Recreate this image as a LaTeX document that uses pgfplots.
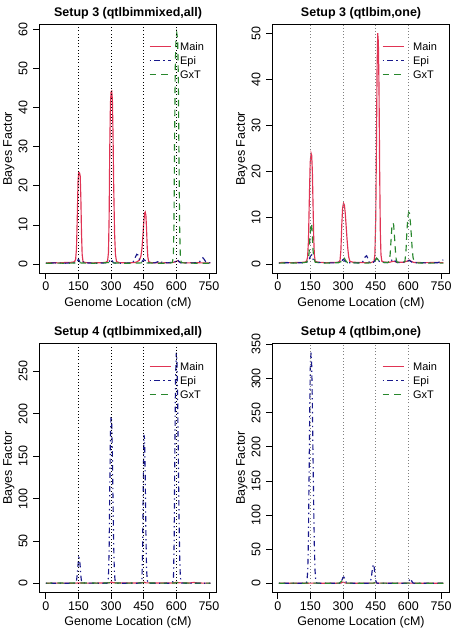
\documentclass[border=0pt]{standalone}
\usepackage{fontspec}
\setmainfont{Liberation Sans}
\usepackage{pgfplots}
\pgfplotsset{compat=1.18}

\definecolor{mainred}{RGB}{224,52,84}
\definecolor{epiblue}{RGB}{25,25,140}
\definecolor{gxtgreen}{RGB}{40,135,45}

\pgfplotsset{
  panel/.style={
    scale only axis, width=177.5pt, height=249.3pt,
    tick align=outside, tick pos=left,
    major tick length=6pt,
    axis line style={line width=0.8pt},
    every tick/.style={black, line width=0.8pt},
    xtick={0,150,...,750},
    /pgf/number format/assume math mode=true,
    ticklabel style={font=\fontsize{12.5}{14}\selectfont},
    xticklabel style={anchor=base, yshift=-11.5pt, inner sep=0pt},
    yticklabel style={rotate=90, anchor=south, inner xsep=0pt, inner ysep=5.5pt},
    title style={font=\bfseries\fontsize{12.5}{14}\selectfont,
      at={(axis description cs:0.5,1)}, anchor=base, yshift=1.8pt},
    xlabel={Genome Location (cM)},
    ylabel={Bayes Factor},
    label style={font=\fontsize{12.5}{14}\selectfont},
    xlabel style={at={(axis description cs:0.5,0)}, anchor=base, yshift=-33pt},
    ylabel style={at={([xshift=-27.5pt]axis description cs:0,0.5)}, anchor=base},
    legend style={draw=none, fill=none, inner sep=0pt,
      at={([xshift=109.5pt,yshift=-18.6pt]axis description cs:0,1)},
      anchor=north west, font=\fontsize{11}{13}\selectfont,
      row sep=3.5pt, column sep=0pt,
      nodes={inner sep=0pt, text height=8pt, text depth=2.5pt, anchor=base west}},
    legend cell align=left,
    legend image code/.code={\draw[##1] (0pt,3.9pt) -- (21pt,3.9pt); \path (30pt,0pt);},
  },
  mainline/.style={mainred, line width=1.15pt},
  epiline/.style={epiblue, line width=1.15pt, dash pattern=on 1.3pt off 3.5pt on 5.5pt off 3.5pt},
  gxtline/.style={gxtgreen, line width=1.15pt, dash pattern=on 6.5pt off 5pt},
  markerline/.style={line width=0.7pt, dash pattern=on 0.8pt off 2.4pt},
}

\begin{document}
\begin{tikzpicture}
\useasboundingbox (0,0) rectangle (455pt,629pt);

% ---------- Setup 3, qtlbimmixed ----------
\begin{axis}[panel, at={(39.3pt,355.7pt)}, anchor=south west,
  title={Setup 3 (qtlbimmixed,all)},
  xmin=-30, xmax=786, ymin=-2.36, ymax=61.36, ytick={0,10,...,60}]
\addplot[mainline] coordinates {(0,0.3)(30,0.35)(60,0.3)(90,0.4)(120,0.45)(132,0.6)(137,1.2)(141,4)(145,13)(148,21)(151,23.5)(155,23.3)(158,22.5)(161,17)(164,8)(167,2.5)(171,0.6)(180,0.4)(210,0.3)(250,0.35)(275,0.4)(284,0.8)(288,3)(291,12)(294,30)(297,41)(300,44)(303,44.2)(306,42)(309,33)(312,20)(316,8)(320,2.5)(325,0.6)(340,0.35)(380,0.3)(410,0.4)(420,0.6)(430,1)(437,2)(442,4)(446,7)(450,10.5)(454,13)(457,13.3)(460,12.5)(463,9)(466,4.5)(469,1.8)(473,0.6)(485,0.35)(530,0.3)(570,0.35)(592,0.5)(600,0.7)(605,0.85)(610,0.7)(618,0.4)(650,0.3)(690,0.35)(720,0.3)(756,0.3)};
\addplot[epiline] coordinates {(0,0.2)(40,0.3)(80,0.2)(120,0.3)(140,0.4)(146,0.8)(150,1.3)(154,0.8)(160,0.3)(172,0.5)(180,0.7)(188,0.3)(230,0.2)(270,0.3)(290,0.5)(296,1.0)(300,1.3)(305,0.8)(312,0.3)(350,0.2)(395,0.3)(405,0.8)(412,1.8)(418,2.5)(424,2.3)(430,1.2)(438,0.5)(445,0.8)(450,1.2)(456,0.9)(464,0.4)(500,0.3)(515,0.6)(522,0.9)(530,0.5)(560,0.3)(595,0.6)(600,0.9)(605,1.2)(611,0.7)(620,0.3)(680,0.3)(705,0.5)(715,1.1)(722,1.6)(728,1.2)(735,0.6)(756,0.3)};
\addplot[gxtline] coordinates {(0,0.2)(50,0.25)(100,0.2)(140,0.3)(147,0.5)(152,0.6)(158,0.3)(200,0.2)(250,0.25)(292,0.4)(298,0.8)(303,0.7)(310,0.3)(380,0.2)(440,0.3)(448,0.6)(455,0.5)(462,0.3)(520,0.2)(570,0.25)(582,0.4)(586,2)(589,10)(592,32)(595,50)(598,57)(602,59)(606,57.5)(609,48)(612,28)(615,10)(618,2.5)(622,0.5)(630,0.3)(700,0.2)(756,0.2)};
\addplot[markerline, black, forget plot] coordinates {(150,-10)(150,100)};
\addplot[markerline, black, forget plot] coordinates {(300,-10)(300,100)};
\addplot[markerline, black, forget plot] coordinates {(450,-10)(450,100)};
\addplot[markerline, black, forget plot] coordinates {(600,-10)(600,100)};
\legend{Main,Epi,GxT}
\end{axis}

% ---------- Setup 3, qtlbim ----------
\begin{axis}[panel, at={(272.3pt,355.7pt)}, anchor=south west,
  title={Setup 3 (qtlbim,one)},
  xmin=-25, xmax=790, ymin=-2, ymax=52, ytick={0,10,...,50}]
\addplot[mainline] coordinates {(5,0.3)(30,0.35)(60,0.3)(100,0.35)(125,0.4)(133,0.7)(137,1.5)(141,5)(145,14)(149,22)(153,24)(156,23.5)(159,20)(162,13)(165,6)(168,2)(172,0.6)(185,0.4)(220,0.3)(260,0.35)(280,0.4)(286,0.8)(290,3)(294,8.5)(298,12.2)(302,13.2)(306,12.8)(310,11)(314,8.3)(318,5.5)(322,3.2)(326,1.5)(331,0.6)(345,0.4)(400,0.3)(430,0.35)(442,0.6)(446,2)(450,10)(453,25)(456,42)(459,50)(462,48)(465,38)(468,20)(471,7)(474,2)(478,0.6)(490,0.4)(515,0.4)(525,0.55)(535,0.6)(545,0.4)(580,0.4)(598,0.7)(605,0.85)(612,0.6)(625,0.35)(680,0.3)(720,0.35)(760,0.3)};
\addplot[epiline] coordinates {(5,0.2)(40,0.3)(80,0.25)(120,0.3)(140,0.5)(146,1.2)(151,1.8)(156,2)(161,1.2)(167,0.4)(200,0.3)(260,0.25)(292,0.5)(298,0.9)(303,1.0)(309,0.6)(318,0.3)(360,0.25)(388,0.3)(396,1.0)(402,1.6)(408,1.8)(414,1.2)(420,0.4)(440,0.4)(450,1.0)(456,1.3)(462,0.8)(470,0.4)(510,0.3)(522,0.8)(530,1.1)(538,0.7)(550,0.3)(595,0.5)(603,0.8)(610,0.6)(620,0.3)(700,0.25)(735,0.3)(745,0.5)(752,0.8)(760,0.9)};
\addplot[gxtline] coordinates {(5,0.2)(50,0.25)(100,0.2)(132,0.4)(140,1)(144,2.5)(148,6)(152,8.8)(156,8.6)(159,6)(162,3)(166,1.2)(172,0.4)(220,0.2)(280,0.3)(294,0.6)(300,1.1)(305,1.4)(311,0.8)(320,0.3)(400,0.2)(440,0.3)(448,0.8)(454,1.3)(460,1.0)(468,0.4)(505,0.3)(512,0.6)(516,2)(520,5)(524,8)(528,8.9)(532,8.6)(536,6)(540,3)(544,1)(548,0.4)(575,0.3)(584,0.6)(589,3)(593,7)(597,10)(601,11.2)(605,11)(609,9)(613,6.5)(617,3.5)(621,1.5)(626,0.5)(640,0.25)(700,0.2)(760,0.2)};
\addplot[markerline, gray, forget plot] coordinates {(150,-10)(150,100)};
\addplot[markerline, gray, forget plot] coordinates {(300,-10)(300,100)};
\addplot[markerline, gray, forget plot] coordinates {(450,-10)(450,100)};
\addplot[markerline, gray, forget plot] coordinates {(600,-10)(600,100)};
\legend{Main,Epi,GxT}
\end{axis}

% ---------- Setup 4, qtlbimmixed ----------
\begin{axis}[panel, at={(39.3pt,36.3pt)}, anchor=south west,
  title={Setup 4 (qtlbimmixed,all)},
  xmin=-30, xmax=786, ymin=-10.9, ymax=282.9, ytick={0,50,...,250}]
\addplot[mainline] coordinates {(0,0.3)(60,0.4)(120,0.3)(150,0.5)(200,0.4)(280,0.5)(295,1)(302,1.8)(310,0.8)(350,0.5)(420,0.5)(445,1)(452,1.5)(460,0.7)(520,0.5)(590,0.6)(600,1.5)(608,0.8)(660,0.5)(680,1.2)(700,0.5)(756,0.3)};
\addplot[epiline] coordinates {(0,0.3)(80,0.3)(130,0.3)(137,0.6)(141,3)(145,12)(149,25)(152,30.5)(155,29)(158,20)(161,9)(164,2.5)(168,0.5)(220,0.3)(280,0.3)(285,1)(288,8)(291,40)(294,110)(297,175)(300,197)(303,190)(306,150)(309,95)(312,45)(315,15)(318,4)(322,0.8)(330,0.3)(420,0.3)(438,0.6)(442,6)(445,40)(448,120)(451,175)(454,170)(457,125)(460,60)(463,18)(466,4)(470,0.6)(480,0.3)(570,0.3)(583,0.8)(587,8)(590,50)(593,150)(596,240)(600,272)(603,262)(606,215)(609,150)(612,85)(615,35)(618,10)(621,2)(625,0.5)(640,0.3)(756,0.3)};
\addplot[gxtline] coordinates {(0,0.4)(50,0.5)(100,0.4)(150,0.6)(200,0.5)(250,0.4)(298,0.8)(305,1.2)(312,0.5)(380,0.4)(448,0.7)(455,1.3)(462,0.5)(540,0.4)(598,0.6)(604,1.2)(612,0.5)(680,0.4)(756,0.4)};
\addplot[markerline, black, forget plot] coordinates {(150,-50)(150,400)};
\addplot[markerline, black, forget plot] coordinates {(300,-50)(300,400)};
\addplot[markerline, black, forget plot] coordinates {(450,-50)(450,400)};
\addplot[markerline, black, forget plot] coordinates {(600,-50)(600,400)};
\legend{Main,Epi,GxT}
\end{axis}

% ---------- Setup 4, qtlbim ----------
\begin{axis}[panel, at={(272.3pt,36.3pt)}, anchor=south west,
  title={Setup 4 (qtlbim,one)},
  xmin=-25, xmax=790, ymin=-13.5, ymax=351.5, ytick={0,50,...,350}]
\addplot[mainline] coordinates {(5,0.3)(60,0.4)(120,0.3)(150,0.5)(200,0.4)(260,0.3)(290,0.6)(298,2)(305,1.5)(312,0.5)(380,0.4)(440,0.5)(448,1.5)(455,0.6)(520,0.4)(600,0.6)(650,0.3)(700,0.4)(760,0.3)};
\addplot[epiline] coordinates {(5,0.3)(60,0.4)(110,0.3)(130,0.5)(134,3)(138,20)(141,70)(144,160)(147,260)(150,325)(153,338)(156,318)(159,260)(162,185)(165,115)(168,55)(171,20)(174,6)(178,1)(185,0.3)(250,0.3)(285,0.4)(291,2)(295,5)(299,8.5)(303,9.5)(307,7.5)(311,4)(315,1.5)(320,0.4)(400,0.3)(422,0.5)(426,3)(430,9)(434,20)(438,28)(442,26)(446,14)(450,4)(454,0.8)(460,0.3)(590,0.3)(598,1)(603,4)(608,7.3)(612,6)(616,3)(620,1)(625,0.3)(700,0.3)(760,0.3)};
\addplot[gxtline] coordinates {(5,0.4)(60,0.5)(120,0.4)(150,0.8)(165,0.5)(230,0.4)(282,0.5)(288,2)(294,3.8)(300,3.5)(306,1.5)(312,0.5)(380,0.4)(442,0.6)(450,1.5)(458,0.5)(530,0.4)(600,0.6)(650,0.4)(760,0.4)};
\addplot[markerline, gray, forget plot] coordinates {(150,-50)(150,400)};
\addplot[markerline, gray, forget plot] coordinates {(300,-50)(300,400)};
\addplot[markerline, gray, forget plot] coordinates {(450,-50)(450,400)};
\addplot[markerline, gray, forget plot] coordinates {(600,-50)(600,400)};
\legend{Main,Epi,GxT}
\end{axis}
\end{tikzpicture}
\end{document}
